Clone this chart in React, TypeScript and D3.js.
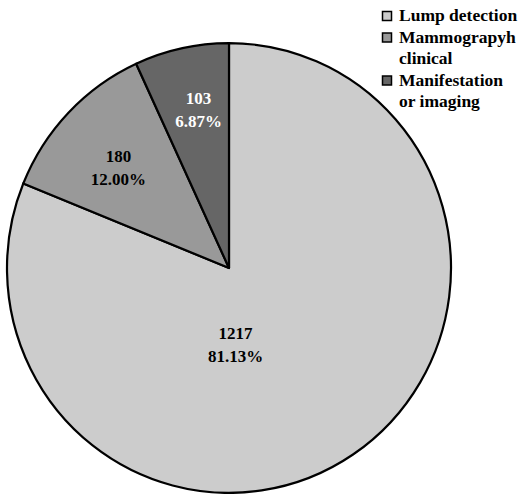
import React, { useRef, useEffect } from 'react';
import * as d3 from 'd3';

const categories = ['Lump detection', 'Mammograpyh clinical', 'Manifestation or imaging'];
const legendLines = [['Lump detection'], ['Mammograpyh', 'clinical'], ['Manifestation', 'or imaging']];
const counts = [1217, 180, 103];
const percents = ['81.13%', '12.00%', '6.87%'];
const fills = ['#cccccc', '#999999', '#666666'];
const labelColors = ['#000000', '#000000', '#ffffff'];

// label placement, polar: angle (deg clockwise from top), fraction of radius
const labelPolar: [number, number][] = [[175, 0.34], [312, 0.67], [349, 0.72]];

function PieChart({ width = 521, height = 494 }) {
  const svgRef = useRef<SVGSVGElement>(null);

  useEffect(() => {
    const svg = d3.select(svgRef.current);
    svg.selectAll('*').remove();
    svg.attr('width', width).attr('height', height).style('background', '#ffffff');

    const font = "'Liberation Serif', 'DejaVu Serif', serif";
    const cx = 229, cy = 268, r = 222;

    const data = categories.map((c, i) => ({ name: c, value: counts[i], i }));
    const pie = d3.pie<any>().sort(null).value(d => d.value);
    const arc = d3.arc<any>().innerRadius(0).outerRadius(r);
    const arcs = pie(data);

    // slightly taller than wide, like the source
    const g = svg.append('g').attr('transform', `translate(${cx},${cy}) scale(1,1.013)`);

    g.selectAll('path')
      .data(arcs)
      .enter()
      .append('path')
      .attr('d', arc)
      .attr('fill', d => fills[d.data.i])
      .attr('stroke', '#000')
      .attr('stroke-width', 2.2)
      .attr('stroke-linejoin', 'round');

    arcs.forEach(d => {
      const [deg, frac] = labelPolar[d.data.i];
      const a = (deg * Math.PI) / 180;
      const x = Math.sin(a) * r * frac;
      const y = -Math.cos(a) * r * frac;
      const t = g.append('text')
        .attr('x', x)
        .attr('y', y)
        .attr('text-anchor', 'middle')
        .style('font-family', font)
        .style('font-size', '17px')
        .style('font-weight', 'bold')
        .attr('fill', labelColors[d.data.i]);
      t.append('tspan').attr('x', x).attr('dy', -5).text(counts[d.data.i]);
      t.append('tspan').attr('x', x).attr('dy', 22.5).text(percents[d.data.i]);
    });

    // legend
    const lg = svg.append('g').attr('transform', 'translate(382,0)');
    let line = 0;
    legendLines.forEach((lines, i) => {
      const base = 21 + line * 21.5;
      lg.append('rect')
        .attr('x', 0.5)
        .attr('y', base - 9.5)
        .attr('width', 9)
        .attr('height', 9)
        .attr('fill', fills[i])
        .attr('stroke', '#000')
        .attr('stroke-width', 1.5);
      lines.forEach((txt, j) => {
        lg.append('text')
          .attr('x', 17)
          .attr('y', base + j * 21.5)
          .style('font-family', font)
          .style('font-size', '17.5px')
          .style('font-weight', 'bold')
          .attr('fill', '#000')
          .text(txt);
      });
      line += lines.length;
    });
  }, [width, height]);

  return <svg ref={svgRef} style={{ display: 'block' }} />;
}

export default function App() {
  return (
    <div style={{ position: 'absolute', left: 0, top: 0 }}>
      <PieChart />
    </div>
  );
}
